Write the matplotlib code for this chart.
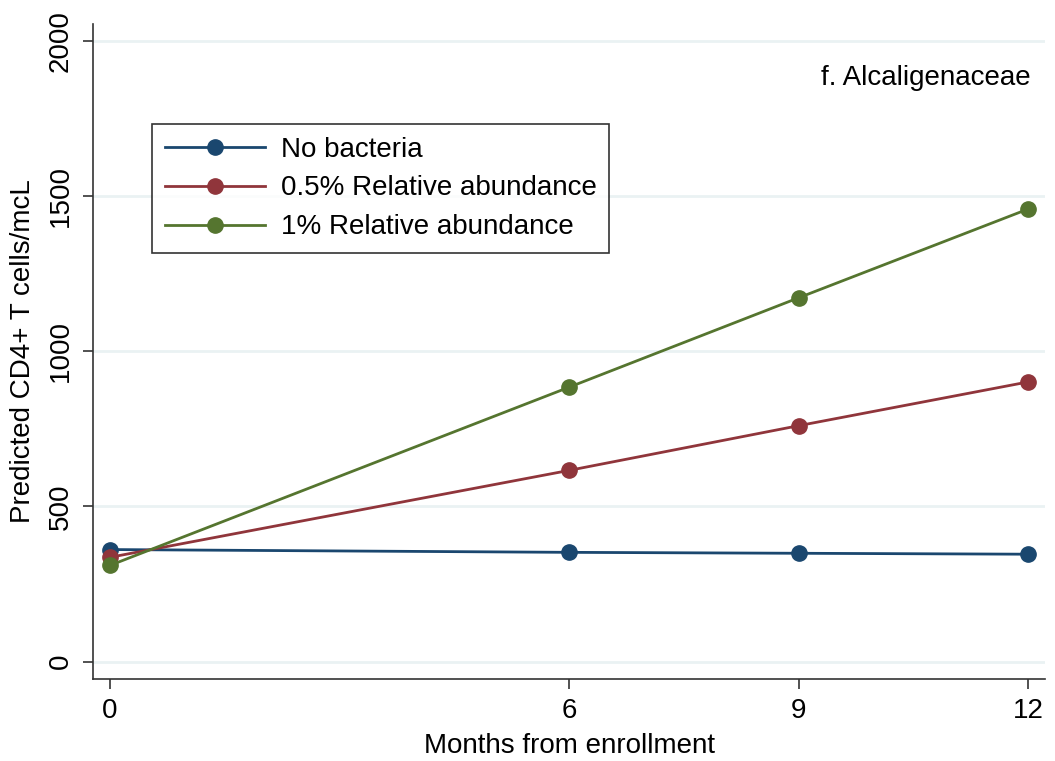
import matplotlib
matplotlib.use("Agg")
import matplotlib.pyplot as plt

plt.rcParams['font.family'] = ['Liberation Sans', 'DejaVu Sans']

months = [0, 6, 9, 12]
no_bacteria = [361, 352, 349, 346]
half_pct = [336, 616, 760, 901]
one_pct = [310, 884, 1172, 1458]

series_labels = ["No bacteria", "0.5% Relative abundance", "1% Relative abundance"]
series_colors = ["#1a476f", "#90353b", "#55752f"]

fig = plt.figure(figsize=(10.55, 7.61), dpi=100)
ax = fig.add_axes([93 / 1055, 82 / 761, 952 / 1055, 655 / 761])

for vals, lab, col in zip([no_bacteria, half_pct, one_pct], series_labels, series_colors):
    ax.plot(months, vals, color=col, lw=2, marker='o', markersize=11, label=lab)

ax.set_xlim(-0.222, 12.22)
ax.set_ylim(-56, 2054)
ax.set_xticks(months)
ax.set_yticks([0, 500, 1000, 1500, 2000])
ax.set_yticklabels(["0", "500", "1000", "1500", "2000"], rotation=90, va='center')
ax.tick_params(labelsize=20, length=7, width=1.2, color='#333333', pad=7)

ax.grid(axis='y', color='#eaf2f3', lw=2)
ax.set_axisbelow(True)
for s in ['top', 'right']:
    ax.spines[s].set_visible(False)
for s in ['left', 'bottom']:
    ax.spines[s].set_color('#333333')
    ax.spines[s].set_linewidth(1.2)

ax.set_xlabel("Months from enrollment", fontsize=20, labelpad=6)
ax.set_ylabel("Predicted CD4+ T cells/mcL", fontsize=20, labelpad=8)

ax.text(0.985, 0.918, "f. Alcaligenaceae", transform=ax.transAxes,
        ha='right', va='center', fontsize=20)

leg = ax.legend(loc='upper left', bbox_to_anchor=(0.062, 0.847), fontsize=20,
                frameon=True, fancybox=False, handlelength=3.6, handletextpad=0.58,
                labelspacing=0.46, borderpad=0.45, borderaxespad=0)
leg.get_frame().set_edgecolor('black')
leg.get_frame().set_linewidth(1.2)

fig.savefig("out.png", dpi=100)
